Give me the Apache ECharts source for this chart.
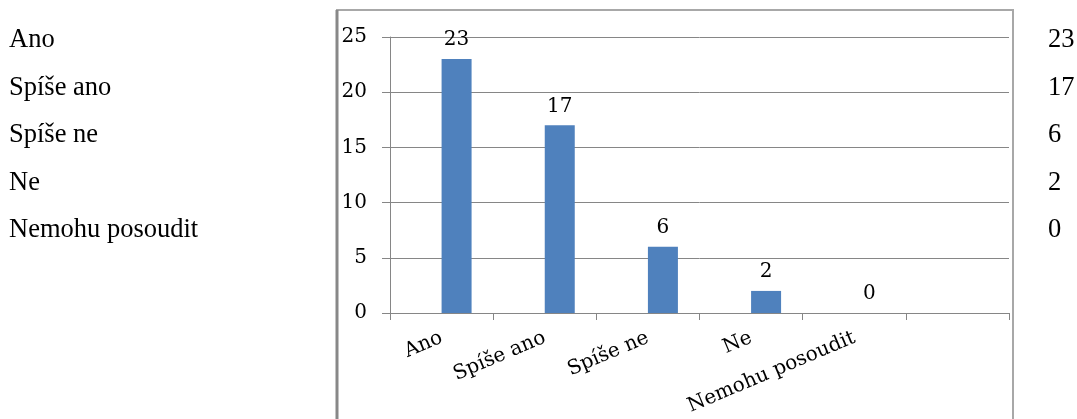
<!DOCTYPE html>
<html>
<head>
<meta charset="utf-8">
<script src="https://cdn.jsdelivr.net/npm/echarts@6/dist/echarts.min.js"></script>
<style>
  html, body { margin: 0; padding: 0; background: #fff; }
  #chart { width: 1077px; height: 419px; }
</style>
</head>
<body>
<div id="chart"></div>
<script>
// Survey answers and their counts
const categories = ['Ano', 'Spíše ano', 'Spíše ne', 'Ne', 'Nemohu posoudit'];
const counts = [23, 17, 6, 2, 0];
// Value-axis range
const yMin = 0;
const yMax = 25;
const yStep = 5;

const chartFont = 'DejaVu Serif';
const tableFont = '"Liberation Serif", "Times New Roman", serif';

// Answer table on the left and its counts on the right
const tableTop = 40;
const tableRow = 47.6;
const tableGraphics = [];
categories.forEach(function (name, i) {
  tableGraphics.push({
    type: 'text', x: 9, y: tableTop + i * tableRow,
    style: { text: name, font: '26.5px ' + tableFont, fill: '#000', verticalAlign: 'middle' }
  });
  tableGraphics.push({
    type: 'text', x: 1048, y: tableTop + i * tableRow,
    style: { text: String(counts[i]), font: '26.5px ' + tableFont, fill: '#000', verticalAlign: 'middle' }
  });
});

// Frame around the chart picture
const frame = [
  { type: 'rect', shape: { x: 337, y: 10, width: 676, height: 430 },
    style: { fill: 'none', stroke: '#a8a8a8', lineWidth: 2 }, z: 10 },
  { type: 'line', shape: { x1: 337, y1: 10, x2: 337, y2: 419 },
    style: { stroke: '#888', lineWidth: 3 }, z: 11 }
];

const chart = echarts.init(document.getElementById('chart'), null, { renderer: 'canvas' });
chart.setOption({
  animation: false,
  backgroundColor: '#fff',
  grid: { left: 390, right: 68, top: 37, bottom: 106, containLabel: false },
  xAxis: {
    type: 'category',
    data: categories.concat(['']),
    boundaryGap: true,
    axisLine: { show: true, lineStyle: { color: '#868686', width: 1 } },
    axisTick: { show: true, length: 7, alignWithLabel: false, lineStyle: { color: '#868686' } },
    axisLabel: {
      interval: 0, rotate: 23, margin: 24,
      fontFamily: chartFont, fontSize: 20, color: '#000'
    },
    splitLine: { show: false }
  },
  yAxis: {
    type: 'value',
    min: yMin, max: yMax, interval: yStep,
    axisLine: { show: true, lineStyle: { color: '#868686', width: 1 } },
    axisTick: { show: true, length: 8, lineStyle: { color: '#868686' } },
    axisLabel: { margin: 23, fontFamily: chartFont, fontSize: 20, color: '#000' },
    splitLine: { show: true, lineStyle: { color: '#868686', width: 1 } }
  },
  series: [
    {
      name: 'prázdné',
      type: 'bar',
      barWidth: 30,
      barGap: '0%',
      data: categories.map(function () { return null; }).concat([null])
    },
    {
      name: 'Počet',
      type: 'bar',
      barWidth: 30,
      barGap: '0%',
      itemStyle: { color: '#4f81bd' },
      label: {
        show: true, position: 'top', distance: 9,
        fontFamily: chartFont, fontSize: 20, color: '#000'
      },
      data: counts.concat([null])
    }
  ],
  graphic: tableGraphics.concat(frame)
});
</script>
</body>
</html>
